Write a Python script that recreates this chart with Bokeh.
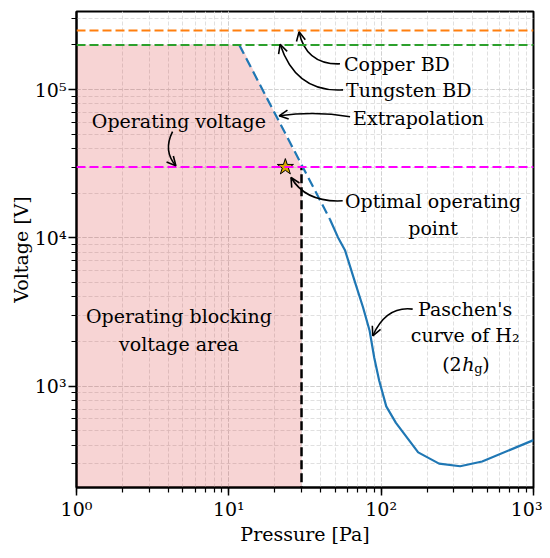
from bokeh.plotting import figure
from bokeh.models import Range1d, LogTicker, Arrow, OpenHead, Span, ColumnDataSource
from bokeh.core.properties import value
from bokeh.embed import file_html
from bokeh.resources import INLINE

# ---- data ----
pressure = [46, 52, 58, 67, 76, 84, 90, 97, 108, 125, 175, 240, 330, 460, 1000]
voltage = [13400, 10100, 8200, 5100, 3400, 2360, 1560, 1090, 730, 565, 357, 300, 288, 310, 432]
extrap_p = [11.7, 46]
extrap_v = [200000, 13400]
copper_bd = 250000
tungsten_bd = 200000
operating_v = 30000
pressure_limit = 30
optimal_p = [23.5]
optimal_v = [30000]
area_p = [1, 1, 12, 30, 30]
area_v = [100, 200000, 200000, 30000, 100]

x_ticks = {1: "10⁰", 10: "10¹", 100: "10²", 1000: "10³"}
y_ticks = {1000: "10³", 10000: "10⁴", 100000: "10⁵"}

# ---- annotations (data coordinates) ----
lab_x = [57, 58.8, 65.4, 4.70, 219, 219, 356, 356, 4.70, 4.70]
lab_y = [149000, 99500, 64400, 61500, 17760, 11670, 3321, 2201, 2979, 1929]
lab_t = ["Copper BD", "Tungsten BD", "Extrapolation", "Operating voltage",
         "Optimal operating", "point", "Paschen's", "curve of H₂",
         "Operating blocking", "voltage area"]
lab_a = ["left", "left", "left", "center", "center", "center", "center", "center",
         "center", "center"]

arr_x0 = [53.7, 56.2, 62.5, 4.27, 55.9, 161]
arr_y0 = [149100, 99500, 65500, 52100, 17760, 3305]
arr_cx = [32.1, 27.6, 37.4, 3.69, 32.1, 107.7]
arr_cy = [146800, 95000, 71900, 38600, 17220, 3479]
arr_x1 = [28.9, 21.7, 21.4, 4.49, 25.6, 88.1]
arr_y1 = [245000, 202000, 66500, 30600, 25500, 2184]

FAM = "DejaVu Serif"
FONT = value(FAM)
FS = "19px"
TFS = "19px"

p = figure(frame_width=457, frame_height=476, x_axis_type="log", y_axis_type="log",
           x_range=Range1d(1, 1000), y_range=Range1d(207, 336000),
           output_backend="svg", toolbar_location=None, title=None,
           min_border_left=76, min_border_right=9, min_border_top=11, min_border_bottom=60)
p.background_fill_color = "white"
p.outline_line_color = "black"
p.outline_line_width = 2

for ax, ov in ((p.xaxis, x_ticks), (p.yaxis, y_ticks)):
    ax.ticker = LogTicker(num_minor_ticks=10)
    ax.major_label_overrides = ov
    ax.major_label_text_font = FAM
    ax.major_label_text_font_size = FS
    ax.major_label_text_color = "black"
    ax.axis_label_text_font = FAM
    ax.axis_label_text_font_size = FS
    ax.axis_label_text_font_style = "normal"
    ax.axis_label_text_color = "black"
    ax.axis_line_color = "black"
    ax.axis_line_width = 2
    ax.major_tick_line_color = "black"
    ax.major_tick_line_width = 1.5
    ax.major_tick_out = 8
    ax.major_tick_in = 0
    ax.minor_tick_line_color = "black"
    ax.minor_tick_line_width = 1.2
    ax.minor_tick_out = 5
    ax.minor_tick_in = 0
    ax.major_label_standoff = 2
    ax.axis_label_standoff = 0
p.xaxis.axis_label = "Pressure [Pa]"
p.yaxis.axis_label = "Voltage [V]"

for g in (p.xgrid, p.ygrid):
    g.grid_line_color = "#cfcfcf"
    g.grid_line_dash = "4 2"
    g.grid_line_width = 0.9
    g.minor_grid_line_color = "#dcdcdc"
    g.minor_grid_line_dash = "4 2"
    g.minor_grid_line_width = 0.9

# blocking area
p.patch(area_p, area_v, fill_color="#d62728", fill_alpha=0.2, line_alpha=0)

# horizontal levels
p.add_layout(Span(location=copper_bd, dimension="width", line_color="#ff7f0e",
                  line_width=2, line_dash="9 4"))
p.add_layout(Span(location=tungsten_bd, dimension="width", line_color="#2ca02c",
                  line_width=2, line_dash="9 4"))
p.add_layout(Span(location=operating_v, dimension="width", line_color="#ff00ff",
                  line_width=2, line_dash="9 4"))

# pressure limit
p.line([pressure_limit, pressure_limit], [area_v[0], operating_v], line_color="black",
       line_width=2.5, line_dash="9 4")

# Paschen curve and extrapolation
p.line(extrap_p, extrap_v, line_color="#1f77b4", line_width=2.2, line_dash="10 5")
p.line(pressure, voltage, line_color="#1f77b4", line_width=2.2)

# optimal point
p.scatter(optimal_p, optimal_v, marker="star", size=17, fill_color="#d9a800",
          line_color="black", line_width=1)

# texts
p.text(x=lab_x, y=lab_y, text=lab_t, text_align=lab_a, text_baseline="middle",
       text_font=FONT, text_font_size=TFS, text_color="black")
# (2h_g)
px = [356]
py = [1414]
p.text(x=px, y=py, text=["(2"], x_offset=-23, text_align="left",
       text_baseline="middle", text_font=FONT, text_font_size=TFS)
p.text(x=px, y=py, text=["h"], x_offset=-3, text_align="left",
       text_baseline="middle", text_font=FONT, text_font_size=TFS, text_font_style="italic")
p.text(x=px, y=py, text=["g"], x_offset=9, y_offset=5, text_align="left",
       text_baseline="middle", text_font=FONT, text_font_size="13px")
p.text(x=px, y=py, text=[")"], x_offset=17, text_align="left",
       text_baseline="middle", text_font=FONT, text_font_size=TFS)

# curved arrows
arr = ColumnDataSource(dict(x0=arr_x0, y0=arr_y0, cx=arr_cx, cy=arr_cy, x1=arr_x1, y1=arr_y1))
p.quadratic(x0="x0", y0="y0", x1="x1", y1="y1", cx="cx", cy="cy", source=arr,
            line_color="black", line_width=1.6)
p.add_layout(Arrow(source=arr, x_start="cx", y_start="cy", x_end="x1", y_end="y1",
                   line_alpha=0,
                   end=OpenHead(size=9, line_width=1.6, line_color="black")))

open("out.html", "w").write(file_html(p, INLINE))
